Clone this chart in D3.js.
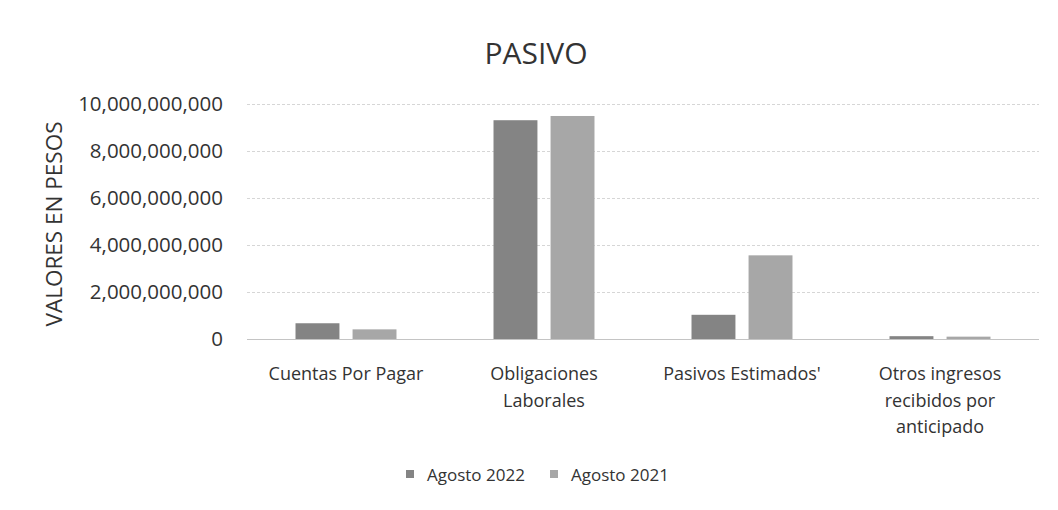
<!DOCTYPE html>
<html>
<head>
<meta charset="utf-8">
<script src="https://cdn.jsdelivr.net/npm/d3@7/dist/d3.min.js"></script>
<style>
  html, body { margin: 0; padding: 0; background: #fff; }
  text { font-family: "Open Sans", sans-serif; fill: #333; }
</style>
</head>
<body>
<svg id="chart" width="1058" height="510"></svg>
<script>
const title = "PASIVO";
const yAxisTitle = "VALORES EN PESOS";
const categories = [
  ["Cuentas Por Pagar"],
  ["Obligaciones", "Laborales"],
  ["Pasivos Estimados'"],
  ["Otros ingresos", "recibidos por", "anticipado"]
];
const seriesNames = ["Agosto 2022", "Agosto 2021"];
const agosto2022 = [670000000, 9310000000, 1030000000, 120000000];
const agosto2021 = [410000000, 9490000000, 3560000000, 100000000];
const yTicks = [0, 2000000000, 4000000000, 6000000000, 8000000000, 10000000000];
const colors = ["#848484", "#a7a7a7"];

const svg = d3.select("#chart");
const catKeys = categories.map(c => c.join(" "));
const seriesData = [agosto2022, agosto2021];

const x0 = d3.scaleBand().domain(catKeys).range([247, 1039]).paddingInner(0).paddingOuter(0);
const bw = x0.bandwidth();
const x1 = d3.scaleBand().domain(seriesNames).range([bw * 0.245, bw * 0.755]).paddingInner(0.23).paddingOuter(0);
const y = d3.scaleLinear().domain([0, 10000000000]).range([339, 104]);

// gridlines
svg.append("g").selectAll("line").data(yTicks).join("line")
  .attr("x1", 247).attr("x2", 1039)
  .attr("y1", d => y(d) + 0.5).attr("y2", d => y(d) + 0.5)
  .attr("stroke", d => d === 0 ? "#c4c4c4" : "#d6d6d6")
  .attr("stroke-width", 1)
  .attr("stroke-dasharray", d => d === 0 ? null : "3,2");

// y axis labels
const yAxis = d3.axisLeft(y).tickValues(yTicks).tickSize(0).tickPadding(0)
  .tickFormat(d3.format(","));
const yg = svg.append("g").attr("transform", "translate(223,0)").call(yAxis);
yg.select(".domain").remove();
yg.selectAll("text").style("font-size", "20.5px").style("font-family", "'Open Sans', sans-serif").attr("fill", "#333");

// bars
const groups = svg.append("g").selectAll("g").data(catKeys).join("g")
  .attr("transform", d => `translate(${x0(d)},0)`);
groups.selectAll("rect").data((d, i) => seriesNames.map((s, j) => ({ s, v: seriesData[j][i], j })))
  .join("rect")
  .attr("x", d => x1(d.s))
  .attr("width", x1.bandwidth())
  .attr("y", d => y(d.v))
  .attr("height", d => y(0) - y(d.v))
  .attr("fill", d => colors[d.j]);

// category labels
const catG = svg.append("g");
categories.forEach((lines, i) => {
  const cx = x0(catKeys[i]) + bw / 2;
  const t = catG.append("text").attr("text-anchor", "middle").style("font-size", "18px");
  lines.forEach((ln, k) => {
    t.append("tspan").attr("x", cx).attr("y", 380 + k * 26.5).text(ln);
  });
});

// title
svg.append("text").attr("x", 536).attr("y", 64).attr("text-anchor", "middle")
  .style("font-size", "30px").text(title);

// y axis title
svg.append("text").attr("transform", "translate(62,224) rotate(-90)")
  .attr("text-anchor", "middle").style("font-size", "22.5px").text(yAxisTitle);

// legend
const legendX = [406, 550];
const lg = svg.append("g");
seriesNames.forEach((s, i) => {
  lg.append("rect").attr("x", legendX[i]).attr("y", 470).attr("width", 8).attr("height", 8).attr("fill", colors[i]);
  lg.append("text").attr("x", legendX[i] + 21).attr("y", 481).style("font-size", "17px").text(s);
});
</script>
</body>
</html>
